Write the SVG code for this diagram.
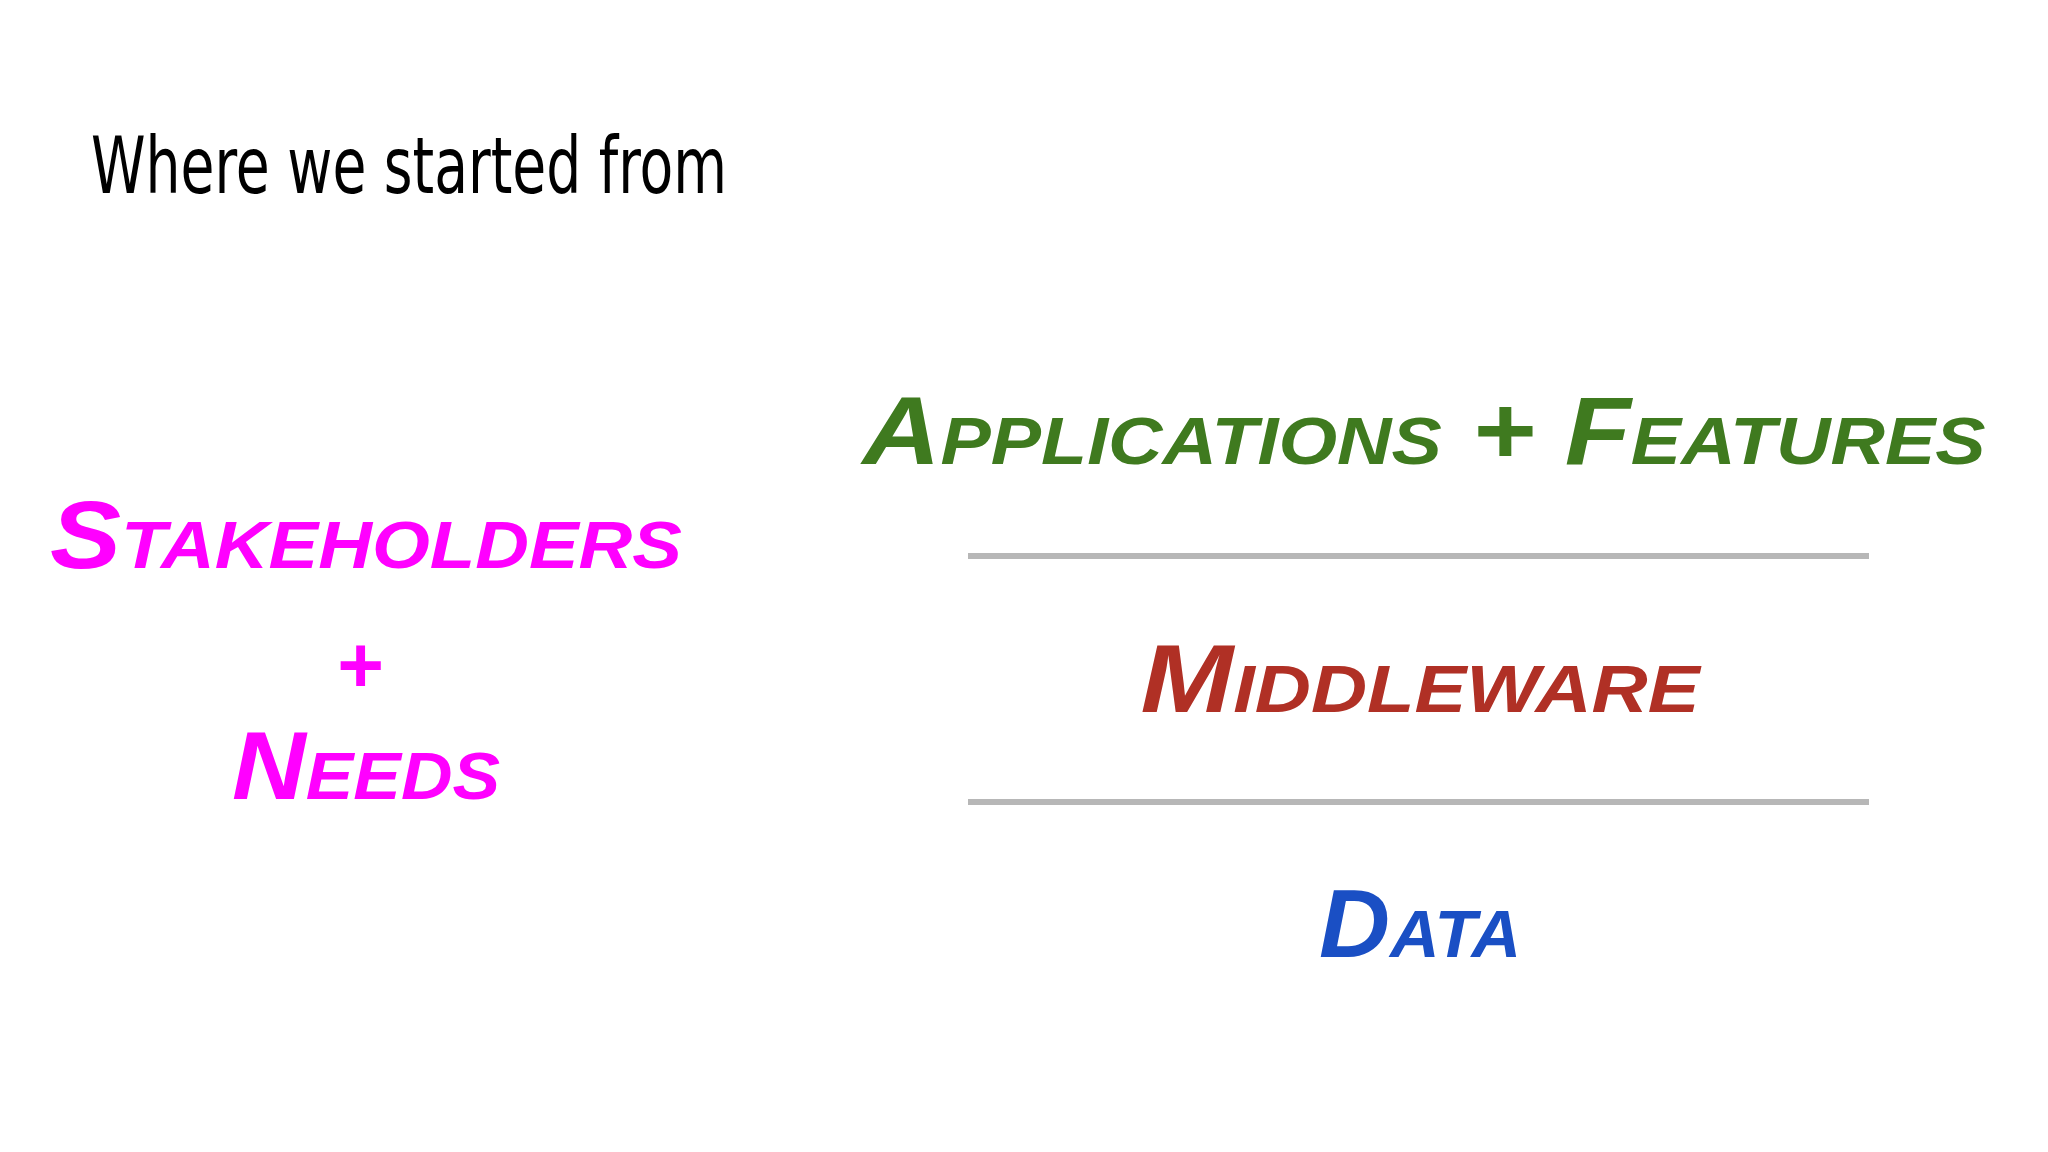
<svg xmlns="http://www.w3.org/2000/svg" width="2048" height="1152" viewBox="0 0 2048 1152">
<style>
.hand{font-family:"Liberation Sans",sans-serif;font-weight:bold;font-style:italic;font-variant:small-caps;text-anchor:middle;}
.sep{stroke:#b7b7b7;stroke-width:6;}
</style>
<rect width="2048" height="1152" fill="#ffffff"/>
<g id="title"><text x="91" y="193" font-family="DejaVu Sans Condensed,Liberation Sans,sans-serif" font-size="78" font-stretch="condensed" fill="#000" textLength="636" lengthAdjust="spacingAndGlyphs">Where we started from</text></g>
<g id="stakeholders">
<text class="hand" x="366" y="568" font-size="96" fill="#ff00ff" textLength="632" lengthAdjust="spacingAndGlyphs">Stakeholders</text>
<text class="hand" x="359" y="692" font-size="80" fill="#ff00ff">+</text>
<text class="hand" x="366" y="799" font-size="96" fill="#ff00ff" textLength="268" lengthAdjust="spacingAndGlyphs">Needs</text>
</g>
<g id="applications"><text class="hand" x="1424" y="464" font-size="96" fill="#3f7a1f" textLength="1123" lengthAdjust="spacingAndGlyphs">Applications + Features</text></g>
<g id="middleware"><text class="hand" x="1420" y="712" font-size="96" fill="#b03025" textLength="559" lengthAdjust="spacingAndGlyphs">Middleware</text></g>
<g id="data"><text class="hand" x="1420" y="957" font-size="96" fill="#1a4fc4" textLength="202" lengthAdjust="spacingAndGlyphs">Data</text></g>
<g id="connectors">
<line class="sep" x1="968" y1="556" x2="1869" y2="556"/>
<line class="sep" x1="968" y1="802" x2="1869" y2="802"/>
</g>
</svg>
